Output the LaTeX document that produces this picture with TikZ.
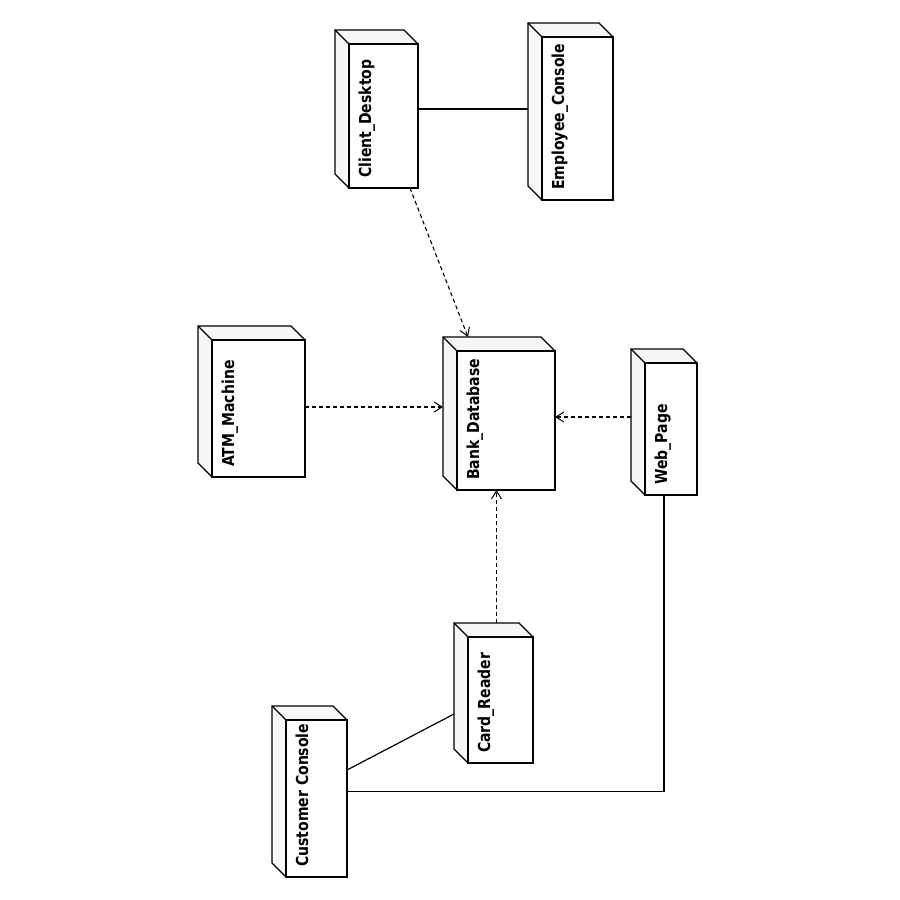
\documentclass[tikz,border=0pt]{standalone}
\usepackage{fontspec}
\setmainfont{DejaVu Sans}
\usetikzlibrary{arrows.meta}

% draws a UML deployment node as a 3D box inside the bounding node #1
\newcommand\cubebox[1]{%
  \draw[boxline, fill=sidegray]
    (#1.north west) -- ([shift={(-14,0)}]#1.north east)
    -- ([shift={(0,14)}]#1.north east) -- (#1.south east)
    -- ([shift={(14,0)}]#1.south west) -- ([shift={(0,-14)}]#1.south west) -- cycle;
  \draw[boxline, fill=white] ([shift={(14,14)}]#1.north west) rectangle (#1.south east);
  \draw[boxline] (#1.north west) -- ([shift={(14,14)}]#1.north west);
}
% narrowed bold label text
\newcommand\boxtext[1]{\scalebox{0.85}[1]{#1}}

\begin{document}
\begin{tikzpicture}[x=1pt, y=-1pt,
  frame/.style={draw=none, inner sep=0pt, outer sep=0pt, rectangle},
  boxline/.style={line width=1.4pt, line join=miter},
  lbl/.style={rotate=90, anchor=base west, inner sep=0pt,
    font=\fontsize{16.5}{19}\selectfont\bfseries},
  link/.style={line width=1.2pt},
  dep/.style={line width=1.1pt, dash pattern=on 4pt off 3pt,
    -{Straight Barb[length=8pt, width=10pt, line width=1pt]}}]
\colorlet{sidegray}{black!3}
\useasboundingbox[fill=white] (0,0) rectangle (900,900);

% node frames (outer extent of each 3D box)
\node[frame, minimum width=83pt,  minimum height=158pt] (client)   at (376.5,109)   {};
\node[frame, minimum width=85pt,  minimum height=177pt] (employee) at (570.5,111.5) {};
\node[frame, minimum width=107pt, minimum height=151pt] (atm)      at (251.5,401.5) {};
\node[frame, minimum width=112pt, minimum height=153pt] (bank)     at (499,413.5)   {};
\node[frame, minimum width=66pt,  minimum height=146pt] (web)      at (664,422)     {};
\node[frame, minimum width=79pt,  minimum height=140pt] (card)     at (493.5,693)   {};
\node[frame, minimum width=75pt,  minimum height=171pt] (customer) at (309.5,791.5) {};

\cubebox{client}
\cubebox{employee}
\cubebox{atm}
\cubebox{bank}
\cubebox{web}
\cubebox{card}
\cubebox{customer}

% labels
\node[lbl] (client-t)   at ([xshift=36pt, yshift=10pt]client.south west)   {\boxtext{Client\_Desktop}};
\node[lbl] (employee-t) at ([xshift=36pt, yshift=10pt]employee.south west) {\boxtext{Employee\_Console}};
\node[lbl] (atm-t)      at ([xshift=36pt, yshift=10pt]atm.south west)      {\boxtext{ATM\_Machine}};
\node[lbl] (bank-t)     at ([xshift=36pt, yshift=10pt]bank.south west)     {\boxtext{Bank\_Database}};
\node[lbl] (web-t)      at ([xshift=36pt, yshift=10pt]web.south west)      {\boxtext{Web\_Page}};
\node[lbl] (card-t)     at ([xshift=36pt, yshift=10pt]card.south west)     {\boxtext{Card\_Reader}};
\node[lbl] (customer-t) at ([xshift=36pt, yshift=10pt]customer.south west) {\boxtext{Customer Console}};

% connector end points
\coordinate (client-o) at ([xshift=33.5pt]client.south);
\coordinate (bank-i)   at ([xshift=-31pt]bank.north);
\coordinate (atm-o)    at ([yshift=-5.5pt]atm.east);
\coordinate (web-o)    at ([yshift=5pt]web.west);
\coordinate (card-o)   at ([xshift=3pt]card.north);
\coordinate (cust-a)   at ([yshift=21.5pt]customer.east);
\coordinate (card-i)   at ([yshift=-21pt]card.west);

% dependencies
\draw[dep] (client-o) -- (bank-i);
\draw[dep] (atm-o) -- (atm-o -| bank.west);
\draw[dep] (web-o) -- (web-o -| bank.east);
\draw[dep] (card-o) -- (card-o |- bank.south);

% associations
\draw[link] (client.east) -- (client.east -| employee.west);
\draw[link] (cust-a) -- (card-i);
\draw[link] (customer.east) -| (web.south);
\end{tikzpicture}
\end{document}
